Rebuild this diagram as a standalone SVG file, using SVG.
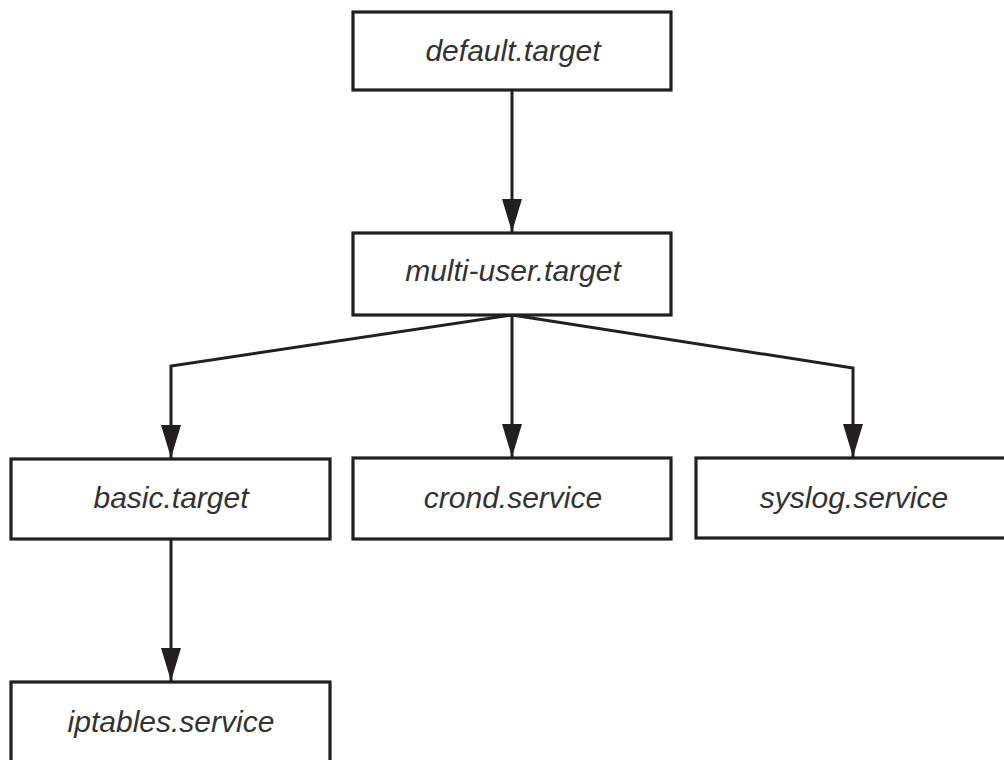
<svg xmlns="http://www.w3.org/2000/svg" width="1004" height="760" viewBox="0 0 1004 760">
<style>
.box{fill:#fff;stroke:#231f20;stroke-width:3.2}
.lbl{font-family:"Liberation Sans",Arial,sans-serif;font-style:italic;font-size:30px;fill:#333;text-anchor:middle}
.edge{fill:none;stroke:#231f20;stroke-width:3}
</style>
<defs>
<marker id="ad" markerUnits="userSpaceOnUse" markerWidth="34" markerHeight="20" viewBox="0 0 34 20" refX="33" refY="10" orient="auto">
<path d="M0,0 L33,10 L0,20 Z" fill="#231f20"/>
</marker>
</defs>
<rect width="1004" height="760" fill="#fff"/>
<g id="connectors">
<path class="edge" d="M512,90 L512,232" marker-end="url(#ad)"/>
<path class="edge" d="M512,315 L171,366 L171,458" marker-end="url(#ad)"/>
<path class="edge" d="M512,315 L512,457" marker-end="url(#ad)"/>
<path class="edge" d="M512,315 L853,368 L853,457" marker-end="url(#ad)"/>
<path class="edge" d="M171,539 L171,681" marker-end="url(#ad)"/>
</g>
<g id="default-target">
<rect class="box" x="353" y="12" width="318" height="78"/>
<text class="lbl" x="513" y="61">default.target</text>
</g>
<g id="multi-user-target">
<rect class="box" x="353" y="233" width="318" height="82"/>
<text class="lbl" x="513" y="281">multi-user.target</text>
</g>
<g id="basic-target">
<rect class="box" x="11" y="459" width="319" height="80"/>
<text class="lbl" x="171" y="508">basic.target</text>
</g>
<g id="crond-service">
<rect class="box" x="353" y="458" width="318" height="81"/>
<text class="lbl" x="513" y="508">crond.service</text>
</g>
<g id="syslog-service">
<rect class="box" x="696" y="458" width="316" height="80"/>
<text class="lbl" x="854" y="508">syslog.service</text>
</g>
<g id="iptables-service">
<rect class="box" x="11" y="682" width="319" height="82"/>
<text class="lbl" x="171" y="732">iptables.service</text>
</g>
</svg>
